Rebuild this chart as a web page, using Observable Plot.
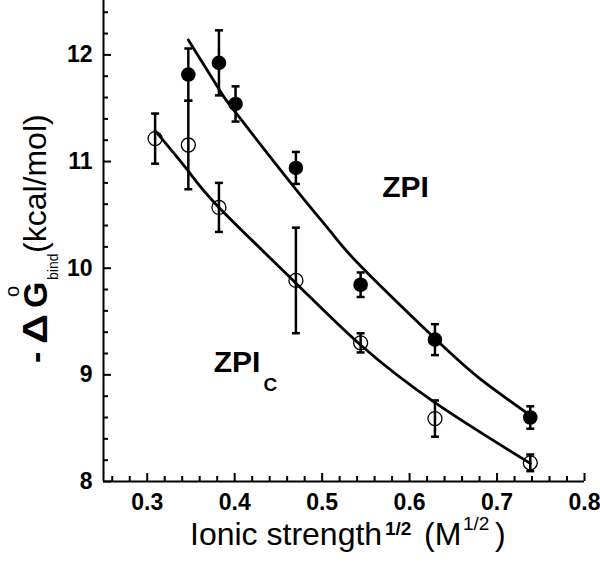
<!DOCTYPE html>
<html><head><meta charset="utf-8">
<script src="https://cdn.jsdelivr.net/npm/d3@7"></script>
<script src="https://cdn.jsdelivr.net/npm/@observablehq/plot@0.6"></script>
<style>body{margin:0;background:#fff}</style>
</head><body><div id="chart"></div>
<script>
// ZPI (filled circles)
const zpiX   = [0.347, 0.382, 0.401, 0.470, 0.544, 0.629, 0.738];
const zpiDG  = [11.815, 11.925, 11.54, 10.94, 9.845, 9.33, 8.60];
const zpiErr = [0.245, 0.305, 0.165, 0.15, 0.115, 0.145, 0.105];
// ZPIc (open circles)
const zpicX   = [0.309, 0.347, 0.382, 0.470, 0.544, 0.629, 0.738];
const zpicDG  = [11.215, 11.155, 10.57, 9.885, 9.30, 8.59, 8.175];
const zpicErr = [0.235, 0.415, 0.23, 0.495, 0.09, 0.17, 0.078];
// fitted curves
const zpiFitX  = [0.347, 0.382, 0.401, 0.470, 0.510, 0.544, 0.629, 0.681, 0.738];
const zpiFitY  = [12.14, 11.68, 11.46, 10.74, 10.34, 10.02, 9.34, 8.96, 8.62];
const zpicFitX = [0.309, 0.347, 0.382, 0.470, 0.544, 0.629, 0.738];
const zpicFitY = [11.29, 10.91, 10.57, 9.86, 9.28, 8.74, 8.17];
// ticks
const xMajor = [0.3, 0.4, 0.5, 0.6, 0.7, 0.8];
const xMinor = [0.26,0.28,0.32,0.34,0.36,0.38,0.42,0.44,0.46,0.48,0.52,0.54,0.56,0.58,0.62,0.64,0.66,0.68,0.72,0.74,0.76,0.78];
const yMajor = [8, 9, 10, 11, 12];
const yMinor = [8.2,8.4,8.6,8.8,9.2,9.4,9.6,9.8,10.2,10.4,10.6,10.8,11.2,11.4,11.6,11.8,12.2,12.4];

const zpi  = zpiX.map((x, i) => ({x, y: zpiDG[i], lo: zpiDG[i] - zpiErr[i], hi: zpiDG[i] + zpiErr[i]}));
const zpic = zpicX.map((x, i) => ({x, y: zpicDG[i], lo: zpicDG[i] - zpicErr[i], hi: zpicDG[i] + zpicErr[i]}));
const zpiFit  = zpiFitX.map((x, i) => ({x, y: zpiFitY[i]}));
const zpicFit = zpicFitX.map((x, i) => ({x, y: zpicFitY[i]}));

const cap = {draw(ctx, size) { const w = Math.sqrt(size / Math.PI); ctx.moveTo(-w, 0); ctx.lineTo(w, 0); }};
const FONT = "'Liberation Sans', Arial, Helvetica, sans-serif";

const W = 600, H = 572, ML = 103, MR = 16, MT = 0, MB = 91;
const FW = W - ML - MR, FH = H - MT - MB;

const plot = Plot.plot({
  width: W, height: H, marginLeft: ML, marginRight: MR, marginTop: MT, marginBottom: MB,
  x: {domain: [0.25, 0.8]},
  y: {domain: [8, 12.51]},
  style: {fontFamily: FONT, color: "black", background: "white", overflow: "visible"},
  marks: [
    Plot.tickX(xMinor, {x: d => d, insetTop: FH - 5, strokeWidth: 2}),
    Plot.tickX(xMajor, {x: d => d, insetTop: FH - 8, strokeWidth: 2}),
    Plot.tickY(yMinor, {y: d => d, insetRight: FW - 5, strokeWidth: 2}),
    Plot.tickY(yMajor, {y: d => d, insetRight: FW - 8, strokeWidth: 2}),
    Plot.ruleY([8], {strokeWidth: 2}),
    Plot.ruleX([0.25], {strokeWidth: 2}),
    Plot.axisX(xMajor, {tickSize: 0, tickPadding: 12, fontSize: 23, fontWeight: "bold", tickFormat: d3.format(".1f"), label: null}),
    Plot.axisY(yMajor, {tickSize: 0, tickPadding: 11, fontSize: 23, fontWeight: "bold", tickFormat: d3.format("d"), label: null}),
    Plot.line(zpiFit, {x: "x", y: "y", curve: "natural", strokeWidth: 2.8}),
    Plot.line(zpicFit, {x: "x", y: "y", curve: "natural", strokeWidth: 2.8}),
    Plot.ruleX(zpic, {x: "x", y1: "lo", y2: "hi", strokeWidth: 2.5}),
    Plot.dot(zpic, {x: "x", y: "lo", symbol: cap, r: 4, fill: "none", stroke: "black", strokeWidth: 2.5}),
    Plot.dot(zpic, {x: "x", y: "hi", symbol: cap, r: 4, fill: "none", stroke: "black", strokeWidth: 2.5}),
    Plot.dot(zpic, {x: "x", y: "y", r: 7, fill: "none", stroke: "black", strokeWidth: 1.3}),
    Plot.ruleX(zpi, {x: "x", y1: "lo", y2: "hi", strokeWidth: 2.5}),
    Plot.dot(zpi, {x: "x", y: "lo", symbol: cap, r: 4, fill: "none", stroke: "black", strokeWidth: 2.5}),
    Plot.dot(zpi, {x: "x", y: "hi", symbol: cap, r: 4, fill: "none", stroke: "black", strokeWidth: 2.5}),
    Plot.dot(zpi, {x: "x", y: "y", r: 7.3, fill: "black", stroke: "none"}),
    Plot.text(["ZPI"], {x: 0.5687, y: 10.665, textAnchor: "start", lineAnchor: "bottom", fontSize: 30, fontWeight: "bold"}),
    Plot.text(["ZPI"], {x: 0.3761, y: 9.024, textAnchor: "start", lineAnchor: "bottom", fontSize: 30, fontWeight: "bold"}),
    Plot.text(["C"], {x: 0.433, y: 8.853, textAnchor: "start", lineAnchor: "bottom", fontSize: 19, fontWeight: "bold"})
  ]
});

const svg = d3.select(plot);
// y title
const yt = svg.append("text").attr("transform", "translate(47,363) rotate(-90)")
  .attr("text-anchor", "start").attr("fill", "black").attr("font-family", FONT);
yt.append("tspan").attr("x", 0).attr("y", 0).attr("font-size", 34).attr("font-weight", "bold").text("-");
yt.append("tspan").attr("x", 19).attr("y", 0).attr("font-size", 35).attr("font-weight", "bold")
  .attr("textLength", 30).attr("lengthAdjust", "spacingAndGlyphs").text("Δ");
yt.append("tspan").attr("x", 55).attr("y", 0).attr("font-size", 34).attr("font-weight", "bold").text("G");
yt.append("tspan").attr("x", 66).attr("y", -28).attr("font-size", 20).text("o");
yt.append("tspan").attr("x", 83).attr("y", 11).attr("font-size", 14).text("bind");
yt.append("tspan").attr("x", 110).attr("y", -1).attr("font-size", 32).text("(kcal/mol)");
// x title
const xt = svg.append("text").attr("text-anchor", "start").attr("fill", "black").attr("font-family", FONT);
xt.append("tspan").attr("x", 190).attr("y", 545).attr("font-size", 32).text("Ionic strength");
xt.append("tspan").attr("x", 385).attr("y", 535).attr("font-size", 19).attr("font-weight", "bold").text("1/2");
xt.append("tspan").attr("x", 424).attr("y", 545).attr("font-size", 32).text("(M");
xt.append("tspan").attr("x", 463).attr("y", 530).attr("font-size", 19).text("1/2");
xt.append("tspan").attr("x", 495).attr("y", 545).attr("font-size", 32).text(")");

document.getElementById("chart").appendChild(plot);
</script>
</body></html>
